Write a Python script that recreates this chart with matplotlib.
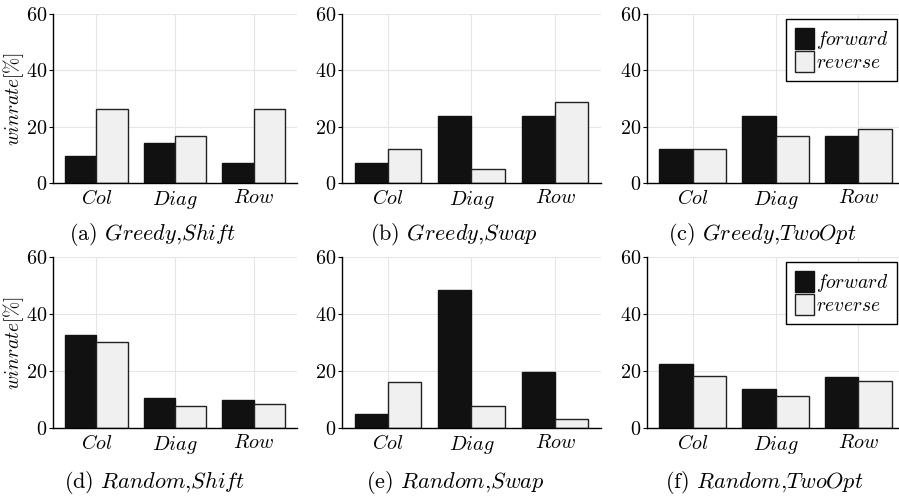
import numpy as np
import matplotlib
matplotlib.use("Agg")
import matplotlib.pyplot as plt
from matplotlib.patches import Rectangle
from matplotlib.legend_handler import HandlerPatch

plt.rcParams['font.family'] = 'serif'
plt.rcParams['font.serif'] = ['cmr10']
plt.rcParams['mathtext.fontset'] = 'cm'
plt.rcParams['axes.unicode_minus'] = False
plt.rcParams['axes.formatter.use_mathtext'] = True

# ============================================================
# DATA (winrate in %)
# ============================================================
categories = ["Col", "Diag", "Row"]
series_labels = ["forward", "reverse"]

greedy_shift_fwd = [9.5, 14.3, 7.1]
greedy_shift_rev = [26.2, 16.7, 26.2]
greedy_swap_fwd = [7.1, 23.8, 23.8]
greedy_swap_rev = [11.9, 4.8, 28.6]
greedy_twoopt_fwd = [11.9, 23.8, 16.7]
greedy_twoopt_rev = [11.9, 16.7, 19.0]

random_shift_fwd = [32.9, 10.5, 9.9]
random_shift_rev = [30.2, 7.9, 8.5]
random_swap_fwd = [4.9, 48.5, 19.8]
random_swap_rev = [16.1, 7.7, 3.2]
random_twoopt_fwd = [22.5, 13.7, 18.0]
random_twoopt_rev = [18.4, 11.3, 16.6]

captions = [
    ("a", "Greedy", "Shift"), ("b", "Greedy", "Swap"), ("c", "Greedy", "TwoOpt"),
    ("d", "Random", "Shift"), ("e", "Random", "Swap"), ("f", "Random", "TwoOpt"),
]


# legend handle: square patch a bit shorter than its row
def short_patch(legend, orig_handle, xdescent, ydescent, width, height, fontsize):
    return Rectangle((-xdescent, -ydescent + 0.1 * height), width, 0.8 * height)


# ============================================================
# LAYOUT
# ============================================================
W, H = 899, 496
fig = plt.figure(figsize=(W / 100, H / 100), dpi=100)

col_px = [(53, 244), (342, 259), (647, 257)]
row_px = [(183, 169), (428.3, 171)]
caption_x = [[152, 454, 762], [155, 455, 764]]
caption_base = [240, 488]

panels = [
    [(greedy_shift_fwd, greedy_shift_rev), (greedy_swap_fwd, greedy_swap_rev),
     (greedy_twoopt_fwd, greedy_twoopt_rev)],
    [(random_shift_fwd, random_shift_rev), (random_swap_fwd, random_swap_rev),
     (random_twoopt_fwd, random_twoopt_rev)],
]

x = np.arange(len(categories))
w = 0.4

k = 0
for r in range(2):
    for c in range(3):
        left, width = col_px[c]
        bottom, height = row_px[r]
        ax = fig.add_axes([left / W, (H - bottom) / H, width / W, height / H])
        fwd, rev = panels[r][c]

        ax.set_axisbelow(True)
        ax.grid(True, color='#e6e6e6', linewidth=0.8)
        ax.bar(x - w / 2, fwd, w, color='#111111', edgecolor='#111111',
               linewidth=1.0, label=r'$' + series_labels[0] + '$')
        ax.bar(x + w / 2, rev, w, color='#f0f0f0', edgecolor='#222222',
               linewidth=1.0, label=r'$' + series_labels[1] + '$')

        ax.set_xlim(-0.55, 2.55)
        ax.set_ylim(0, 60)
        ax.set_yticks([0, 20, 40, 60])
        ax.set_xticks(x)
        ax.set_xticklabels([r'$' + cat + '$' for cat in categories], fontsize=14.5)
        ax.tick_params(axis='x', length=0, pad=4)
        ax.tick_params(axis='y', length=3, width=0.8, pad=1, labelsize=14.5)
        for s in ['top', 'right']:
            ax.spines[s].set_visible(False)
        for s in ['left', 'bottom']:
            ax.spines[s].set_linewidth(1.0)
            ax.spines[s].set_color('black')

        if c == 0:
            ax.set_ylabel(r'$winrate[\%]$', fontsize=14, labelpad=0)
        if c == 2:
            leg = ax.legend(loc='upper right', bbox_to_anchor=(0.973, 0.97),
                            borderaxespad=0, fontsize=14, frameon=True,
                            fancybox=False, framealpha=1, edgecolor='black',
                            handlelength=0.95, handleheight=1.3, handletextpad=0.1,
                            labelspacing=0.0, borderpad=0.45,
                            handler_map={Rectangle: HandlerPatch(patch_func=short_patch)})
            leg.get_frame().set_linewidth(1.0)

        letter, a_name, b_name = captions[k]
        fig.text(caption_x[r][c] / W, (H - caption_base[r]) / H,
                 '(' + letter + ') $' + a_name + '$,$' + b_name + '$',
                 ha='center', va='baseline', fontsize=16)
        k += 1

plt.savefig("out.png", dpi=100)
